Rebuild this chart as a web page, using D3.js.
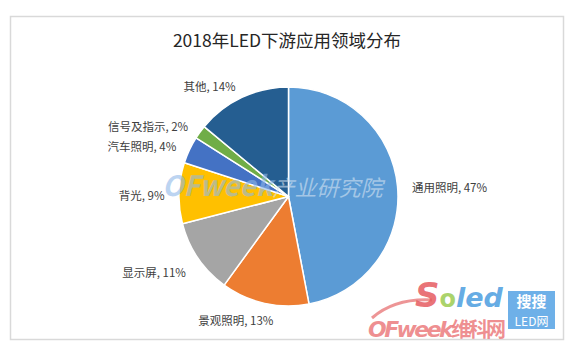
<!DOCTYPE html>
<html><head><meta charset="utf-8">
<script src="https://cdn.jsdelivr.net/npm/d3@7/dist/d3.min.js"></script>
<style>body{margin:0;background:#fff}svg{display:block}</style>
</head><body>
<svg id="c" width="567" height="348"></svg>
<script>
const title = "2018年LED下游应用领域分布";
const categories = ["通用照明","景观照明","显示屏","背光","汽车照明","信号及指示","其他"];
const values = [47,13,11,9,4,2,14];
const colors = ["#5B9BD5","#ED7D31","#A5A5A5","#FFC000","#4472C4","#70AD47","#255E91"];

const svg = d3.select("#c");
const cx = 288.5, cy = 196.5, r = 109.5;
const font = "'Noto Sans CJK SC','Noto Sans',sans-serif";

// frame
svg.append("rect").attr("x",10.5).attr("y",16.5).attr("width",553).attr("height",323)
  .attr("fill","#fff").attr("stroke","#d9d9d9").attr("stroke-width",1.5);

svg.append("text").attr("x",287).attr("y",47).attr("text-anchor","middle")
  .attr("font-family",font).attr("font-size",17.5).attr("fill","#262626").text(title);

const data = categories.map((c,i)=>({name:c,value:values[i],color:colors[i]}));
const pie = d3.pie().sort(null).value(d=>d.value);
const arcs = pie(data);
const arc = d3.arc().innerRadius(0).outerRadius(r);
const g = svg.append("g").attr("transform",`translate(${cx},${cy})`);
g.selectAll("path").data(arcs).join("path")
  .attr("d",arc).attr("fill",d=>d.data.color)
  .attr("stroke","#fff").attr("stroke-width",1.5).attr("stroke-linejoin","round");

// watermark over pie
const wm = svg.append("text").attr("x",162).attr("y",196).attr("font-family",font)
  .attr("font-style","italic");
wm.append("tspan").attr("font-size",28).attr("font-weight","bold")
  .attr("fill","#8fb8e8").attr("fill-opacity",0.6).text("OFweek");
wm.append("tspan").attr("font-size",22)
  .attr("fill","#d6e4f2").attr("fill-opacity",0.6).text("产业研究院");

// labels
const lr = r + 14.5;
svg.append("g").selectAll("text").data(arcs).join("text")
  .attr("font-family",font).attr("font-size",11.5).attr("fill","#404040")
  .attr("dominant-baseline","central")
  .each(function(d){
    const a = (d.startAngle+d.endAngle)/2;
    const s = Math.sin(a), c = Math.cos(a);
    let x = cx + lr*s, y = cy - lr*c + 2;
    if (Math.abs(s) < 0.3 && c < 0) x += 12;   // bottom label nudged like Excel best-fit
    if (s < -0.6 && c < -0.3) y += 4;
    d3.select(this).attr("x",x).attr("y",y)
      .attr("text-anchor", s>0.1 ? "start" : "end")
      .text(`${d.data.name}, ${d.data.value}%`);
  });

// bottom-right logo watermark
const lg = svg.append("g").attr("font-family","'DejaVu Sans',sans-serif");
lg.append("path").attr("d","M372,318 Q395,298 432,300").attr("fill","none")
  .attr("stroke","#e87a7c").attr("stroke-width",3).attr("opacity",0.8);
const of = lg.append("text").attr("x",368).attr("y",337).attr("font-weight","bold").attr("fill-opacity",0.85)
  .attr("textLength",138);
of.append("tspan").attr("font-size",22).attr("font-style","italic").attr("fill","#ec7b7d").text("OFweek");
of.append("tspan").attr("font-size",20).attr("font-family","'Noto Sans CJK SC',sans-serif")
  .attr("fill","#ec7b7d").text("维科网");
const so = lg.append("text").attr("x",415).attr("y",307).attr("font-weight","bold").attr("fill-opacity",0.85);
so.append("tspan").attr("font-size",34).attr("font-style","italic").attr("fill","#e65b5f").text("S");
so.append("tspan").attr("font-size",24).attr("fill","#9ccc50").text("o");
so.append("tspan").attr("font-size",27).attr("font-style","italic").attr("fill","#4a9de0").text("led");
lg.append("rect").attr("x",508).attr("y",291).attr("width",47).attr("height",38)
  .attr("fill","#5ea7e6").attr("opacity",0.9);
lg.append("text").attr("x",531.5).attr("y",307).attr("text-anchor","middle")
  .attr("font-family","'Noto Sans CJK SC',sans-serif").attr("fill","#fff")
  .attr("font-size",15).attr("font-weight","bold").text("搜搜");
lg.append("text").attr("x",531.5).attr("y",326).attr("text-anchor","middle")
  .attr("font-family","'Noto Sans CJK SC',sans-serif").attr("fill","#fff")
  .attr("font-size",12).text("LED网");
</script>
</body></html>
